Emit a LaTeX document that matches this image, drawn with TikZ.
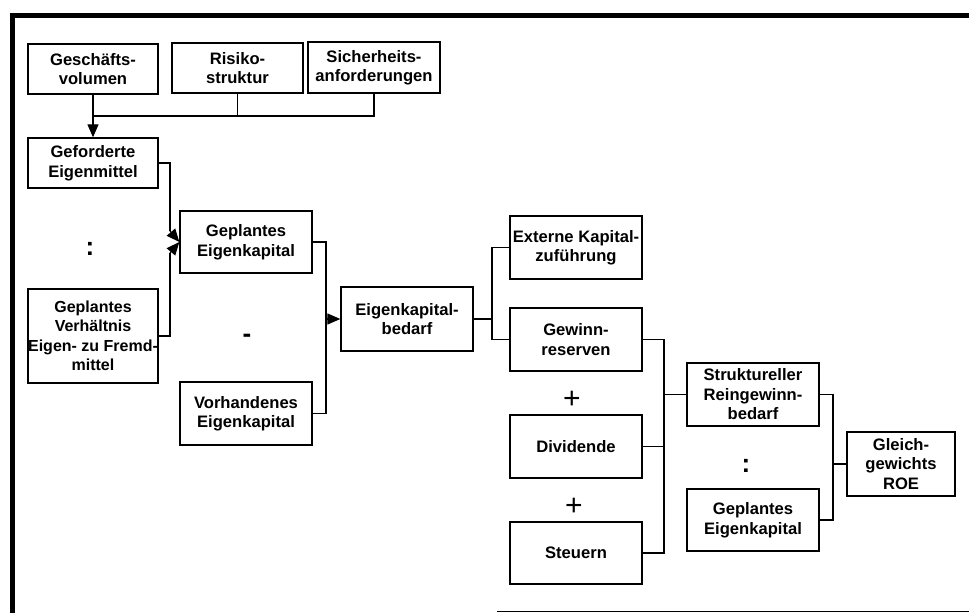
\documentclass[tikz,border=0pt]{standalone}
\usepackage{fontspec}
\setmainfont{Liberation Sans}
\usetikzlibrary{arrows.meta}
\begin{document}
\begin{tikzpicture}[x=1pt,y=-1pt,
  box/.style n args={2}{draw, line width=1.3pt, align=center, inner sep=0pt,
    minimum width=#1pt, minimum height=#2pt,
    font=\fontsize{16.6}{19.5}\selectfont\bfseries},
  ln/.style={line width=1.2pt},
  tip/.style={-{Triangle[length=13pt,width=11pt]}},
  sym/.style={inner sep=0pt, font=\fontsize{26}{26}\selectfont\bfseries},
  plus/.style={inner sep=0pt, font=\fontsize{30}{30}\selectfont}]
\useasboundingbox (0,0) rectangle (969,613);
% frame
\draw[line width=5pt, line join=miter] (969,15.5) -- (12,15.5) -- (12,613);
\draw[line width=1.5pt] (497,611.5) -- (969,611.5);
% boxes
\node[box={130}{50}] (gv) at (93,69) {Geschäfts-\\volumen};
\node[box={131}{50}] (rs) at (237.5,68) {Risiko-\\struktur};
\node[box={132}{51}] (sa) at (374,67.5) {Sicherheits-\\anforderungen};
\node[box={130}{50}] (gef) at (93,163) {Geforderte\\Eigenmittel};
\node[box={130}{94}, font=\fontsize{16}{19.5}\selectfont\bfseries] (gvh) at (93,336) {Geplantes\\Verhältnis\\Eigen- zu Fremd-\\mittel};
\node[box={132}{62}] (gek) at (246,242) {Geplantes\\Eigenkapital};
\node[box={132}{63}] (vek) at (246,413.5) {Vorhandenes\\Eigenkapital};
\node[box={132}{64}] (ekb) at (407,319) {Eigenkapital-\\bedarf};
\node[box={132}{63}] (ext) at (576,247.5) {Externe Kapital-\\zuführung};
\node[box={132}{63}] (gwr) at (576,339.5) {Gewinn-\\reserven};
\node[box={132}{63}] (div) at (576,446.5) {Dividende};
\node[box={132}{62}] (st) at (576,553) {Steuern};
\node[box={132}{63}] (srb) at (753,394.5) {Struktureller\\Reingewinn-\\bedarf};
\node[box={132}{62}] (gek2) at (753,520) {Geplantes\\Eigenkapital};
\node[box={108}{64}] (roe) at (901,464) {Gleich-\\gewichts\\ROE};
% symbols
\node[sym] (c1s) at (90,249) {:};
\node[sym] (m1s) at (247,338) {-};
\node[plus] (p1s) at (572,400) {+};
\node[plus] (p2s) at (574,507) {+};
\node[sym] (c2s) at (746,466) {:};
% connectors
\coordinate (j1) at (93,116);
\draw[ln] (rs.south) |- (j1);
\draw[ln] (sa.south) |- (j1);
\draw[ln, tip] (gv.south) -- (gef.north);
\coordinate (a1) at (170,231);
\coordinate (a2) at (170,253);
\draw[ln] (gef.east) -| (a1);
\draw[ln, tip] (a1) -- (gek.west);
\draw[ln] (gvh.east) -| (a2);
\draw[ln, tip] (a2) -- (gek.west);
\coordinate (b1) at (326,319);
\draw[ln] (gek.east) -| (b1);
\draw[ln] (vek.east) -| (b1);
\draw[ln, tip] (b1) -- (ekb.west);
\coordinate (cc) at (492,319);
\draw[ln] (ekb.east) -- (cc);
\draw[ln] (cc) |- (ext.west);
\draw[ln] (cc) |- (gwr.west);
\coordinate (d1) at (664,394.5);
\coordinate (d2) at (664,446.5);
\draw[ln] (gwr.east) -| (d1);
\draw[ln] (st.east) -| (d1);
\draw[ln] (div.east) -- (d2);
\draw[ln] (d1) -- (srb.west);
\coordinate (e1) at (833,464);
\draw[ln] (srb.east) -| (e1);
\draw[ln] (gek2.east) -| (e1);
\draw[ln] (e1) -- (roe.west);
\end{tikzpicture}
\end{document}
